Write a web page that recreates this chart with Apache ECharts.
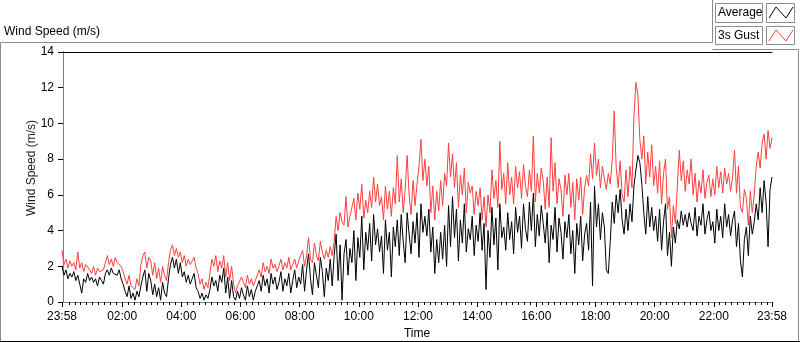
<!DOCTYPE html>
<html>
<head>
<meta charset="utf-8">
<script src="https://cdn.jsdelivr.net/npm/echarts@6/dist/echarts.min.js"></script>
<style>html,body{margin:0;padding:0;background:#fff}#c{width:800px;height:342px}</style>
</head>
<body>
<div id="c"></div>
<script>
// samples every 4 minutes, first one at 23:58 (-2 min from midnight)
const startMin = -2, stepMin = 4;
const average = [
2.0,1.5,1.8,1.3,1.6,1.4,1.7,1.2, 1.5,1.0,0.5,1.3,1.1,1.6, 1.2,1.4,1.1,1.3,0.9,1.4,1.2,1.0,
1.6,1.8,1.5,1.9,1.6,1.7,1.5,1.8, 1.3,1.0,0.6,0.3,0.9,0.2, 0.5,0.1,0.6,0.3,
0.9,1.4,1.8,0.6,1.6,1.2,0.4,1.0,0.3, 0.8,0.1,1.1,0.5,0.3, 1.3,2.1,2.5,1.9,2.4,1.6,2.2,
1.4,1.7,1.1,1.5,1.0,1.3,1.6,0.8, 0.6,0.2,0.5,0.1,0.4,0.2, 0.7,1.4,0.9,1.2,0.6,1.5,
1.1,1.9,0.5,1.4,0.2,1.2, 0.3,0.1,0.6,
0.2,0.8,0.4,0.1,0.9,0.3,0.7,0.1,0.6,0.9, 1.2,0.6,1.5,0.9,1.3,0.5,1.6,1.0,1.4,0.7,
1.1,1.7,0.6,1.3,0.9,1.6,0.5,1.2,1.8,0.8,1.4, 1.0,2.1,0.6,1.8,2.7,1.3,0.4,2.2,1.5,0.8,2.5,
1.7,0.3,1.9,1.2,2.4,0.9, 2.6,3.8,1.2,3.2, 0.1,2.7,3.5,1.5,3.0,
2.2,4.0,1.2,3.6,2.5,4.8,1.8,3.9,2.9, 4.4,2.3,4.9,3.2,4.1,2.8,
3.7,1.6,4.6,2.9,3.9,1.4,4.2,3.1,4.6, 2.6,4.9,3.4,2.2,5.0,3.8,2.7,4.5,3.3,5.0,2.5,
5.5,3.9,4.8,3.7,5.2, 2.8,4.2,1.6,3.5,2.2,3.9,2.4, 4.3,2.0,5.4,3.1,5.9,
3.6,5.2,2.3,4.6,3.3,5.5,2.8,4.1,3.5, 4.8,2.6,4.3,3.4,5.0,2.9,4.4,0.7,
4.0,2.5,5.3,3.2,4.7,1.8,5.5,3.6,4.2,2.9, 5.0,3.5,4.5,2.7,5.3,3.9,4.8,3.0,5.5,4.1,
3.4,5.6,4.0,6.1,3.1,4.9,3.7,5.4,4.4,3.3, 5.0,2.2,4.3,3.5,5.3,2.8,4.7,3.9,2.4,4.5,3.6,
4.9,2.7,4.0,1.6,4.4,3.2,4.8,2.3,3.8,4.4, 2.9,5.6,0.9,6.5,4.2,5.5,
3.5,5.0,4.2,1.8,1.6,3.4, 5.6,4.4,6.0,5.0,6.3,4.6, 3.8,5.2,4.0,5.5,4.5,
6.5,7.4,8.2,7.8,6.6, 5.0,3.8,5.9,4.2,5.3,4.0,4.8, 3.4,5.2,2.9,4.5,5.5, 2.6,3.9,2.0,4.2,3.3,
4.6,4.1,5.1,4.3,4.9,4.2,5.0,4.4, 4.0,5.3,3.7,4.8,4.3,5.5,3.8,4.6,5.1,4.0,
4.5,3.3,5.2,4.0,4.8,3.6,5.5,4.2,4.9,3.7, 4.6,5.1,3.1,4.4,2.3,1.4,3.5,
4.2,2.6,4.8,3.8,4.5, 5.5,4.6,6.4,5.0,6.8,5.6,3.1,6.3,7.0
];
const gust = [
2.9,2.1,2.4,1.9,2.3,2.0,2.2,1.8, 2.8,1.9,2.2,1.7,2.1,2.0, 1.8,1.6,2.0,1.5,1.9,1.7,1.6,1.8,
2.2,2.6,2.1,2.4,2.0,2.5,2.2,2.3, 2.0,1.7,1.3,1.0,1.5,0.9, 1.0,0.7,1.3,0.9,
2.1,2.6,2.8,1.9,2.5,2.3,1.5,2.2,1.3, 1.9,1.1,2.0,1.5,1.2, 2.2,2.9,3.2,2.6,3.0,2.5,2.8,
2.2,2.6,2.0,2.4,2.1,2.3,2.5,1.9, 1.6,1.0,1.3,0.7,1.1,0.8, 1.6,2.4,2.0,2.6,1.7,2.3,
1.9,2.6,1.4,2.2,1.2,2.0, 1.0,0.5,0.9,
0.9,1.4,1.1,0.8,1.5,1.0,1.3,0.9,1.2,1.5, 1.8,1.4,2.2,1.7,2.0,1.6,2.4,1.9,2.1,1.7,
2.0,2.4,1.8,2.2,1.9,2.5,1.8,2.1,2.4,1.9,2.3, 2.2,2.9,2.0,2.6,3.6,2.4,2.2,3.3,2.6,2.3,3.4,
2.8,2.4,2.9,2.5,3.1,2.6, 3.4,4.8,4.0,5.0, 4.5,4.3,5.9,4.2,4.8,
4.9,5.8,4.6,6.1,5.2,6.6,4.7,5.7,5.0, 6.2,5.3,7.0,5.6,6.6,5.4,
5.9,4.6,6.5,5.2,6.2,4.8,6.4,5.5,8.2, 5.6,6.9,5.0,6.3,8.2,6.0,4.9,6.8,5.4,6.6,7.6,
9.1,6.8,8.0,6.5,7.6, 5.0,6.5,4.6,6.2,5.1,6.8,5.4, 7.2,6.5,8.9,7.0,8.3,
6.4,7.8,5.3,7.1,6.0,7.5,5.0,6.7,6.1, 6.5,4.9,6.2,5.4,6.4,4.6,5.9,4.2,
6.0,5.0,7.4,5.8,6.8,5.3,9.0,6.3,7.2,5.5, 7.8,6.0,7.0,5.5,7.6,6.4,7.3,5.8,7.7,6.5,
5.9,7.4,6.2,9.3,5.6,7.2,6.1,7.5,6.8,5.2, 7.0,5.3,9.2,6.2,7.8,5.5,6.9,6.3,4.8,7.1,6.0,
7.2,5.3,6.7,4.6,6.9,5.7,7.0,4.9,6.4,7.1, 6.5,8.3,6.9,8.9,7.1,8.0,
6.4,7.6,6.9,6.3,7.2,6.6, 8.0,10.7,7.5,6.4,7.9,6.0, 5.6,7.4,5.9,7.6,6.4,
10.4,12.3,11.6,9.1,8.0, 9.3,6.6,8.4,7.0,8.8,6.5,7.6, 6.1,7.9,5.5,7.2,8.0, 5.2,5.9,3.6,5.4,4.4,
6.5,8.5,6.8,7.9,6.2,7.4,6.6,8.0, 6.0,7.2,5.6,6.8,6.1,7.4,5.8,6.7,7.1,5.9,
6.9,6.0,7.6,6.4,7.3,6.1,7.5,6.6,7.2,6.2, 7.0,8.5,6.1,7.6,5.3,5.0,6.3,
5.8,4.3,6.2,5.0,6.0, 7.6,8.4,7.5,8.9,9.4,8.0,9.6,8.6,9.2
];
const timeLabels = [-2,120,240,360,480,600,720,840,960,1080,1200,1320,1438];
const minorTicks = [];
for (let m = 12; m < 1438; m += 12) if (m % 120) minorTicks.push(m);

function hhmm(v){ v = (v + 1440) % 1440; const h = Math.floor(v/60), m = v%60; return (h<10?'0':'')+h+':'+(m<10?'0':'')+m; }
const pts = arr => arr.map((v,i)=>[startMin + i*stepMin, v]);

const font = 'Liberation Sans';
const chart = echarts.init(document.getElementById('c'));
chart.setOption({
  animation:false,
  textStyle:{fontFamily:font},
  grid:{left:62,right:28,top:52,bottom:40,outerBoundsMode:'none',containLabel:false,show:true,backgroundColor:'#fff',borderWidth:0},
  xAxis:[
    {type:'value',min:-2,max:1438,position:'bottom',name:'Time',nameLocation:'middle',nameGap:25,
     nameTextStyle:{color:'#000',fontSize:12,fontFamily:font},
     axisLine:{lineStyle:{color:'#808080',width:1}},
     axisTick:{show:true,length:5,customValues:timeLabels,lineStyle:{color:'#000'}},
     axisLabel:{customValues:timeLabels,formatter:hhmm,color:'#000',fontSize:12,margin:9,fontFamily:font},
     splitLine:{show:false}},
    {type:'value',min:-2,max:1438,position:'bottom',
     axisLine:{show:false},axisTick:{show:true,length:3,customValues:minorTicks,lineStyle:{color:'#000'}},
     axisLabel:{show:false},splitLine:{show:false}},
    {type:'value',min:-2,max:1438,position:'top',
     axisLine:{lineStyle:{color:'#000'}},axisTick:{show:false},axisLabel:{show:false},splitLine:{show:false}}
  ],
  yAxis:[
    {type:'value',min:0,max:14,interval:2,position:'left',
     axisLine:{show:true,lineStyle:{color:'#000'}},
     axisTick:{show:true,length:5,lineStyle:{color:'#000'}},
     axisLabel:{color:'#000',fontSize:12,margin:8,fontFamily:font},splitLine:{show:false}},
    {type:'value',min:0,max:14,position:'right',
     axisLine:{show:true,lineStyle:{color:'#808080'}},axisTick:{show:false},axisLabel:{show:false},splitLine:{show:false}}
  ],
  series:[
    {name:'3s Gust',type:'line',data:pts(gust),showSymbol:false,lineStyle:{color:'#ff3f3f',width:1},itemStyle:{color:'#ff3f3f'}},
    {name:'Average',type:'line',data:pts(average),showSymbol:false,lineStyle:{color:'#000',width:1},itemStyle:{color:'#000'}}
  ],
  graphic:[
    {type:'polyline',shape:{points:[[0.5,342],[0.5,42.5],[712.5,42.5],[712.5,0]]},style:{stroke:'#8c8c8c',fill:null,lineWidth:1}},
    {type:'polyline',shape:{points:[[712.5,49.5],[798.5,49.5],[798.5,342]]},style:{stroke:'#8c8c8c',fill:null,lineWidth:1}},
    {type:'line',shape:{x1:0,y1:341.5,x2:800,y2:341.5},style:{stroke:'#000',lineWidth:1}},
    {type:'text',left:4,top:26,style:{text:'Wind Speed (m/s)',fill:'#000',font:'12px '+font}},
    {type:'text',x:32,y:168,rotation:Math.PI/2,style:{text:'Wind Speed (m/s)',fill:'#1a1a1a',font:'12px '+font,align:'center',verticalAlign:'middle'}},
    {type:'rect',shape:{x:715.5,y:3.5,width:47,height:19},style:{fill:'#fff',stroke:'#8c8c8c'}},
    {type:'text',x:718,y:13,style:{text:'Average',fill:'#000',font:'12px '+font,verticalAlign:'middle'}},
    {type:'rect',shape:{x:766.5,y:3.5,width:28,height:19},style:{fill:'#fff',stroke:'#8c8c8c'}},
    {type:'polyline',shape:{points:[[769,18],[776,7],[786,18],[793,7]]},style:{stroke:'#000',fill:null,lineWidth:1}},
    {type:'rect',shape:{x:715.5,y:26.5,width:47,height:18},style:{fill:'#fff',stroke:'#8c8c8c'}},
    {type:'text',x:718,y:36,style:{text:'3s Gust',fill:'#000',font:'12px '+font,verticalAlign:'middle'}},
    {type:'rect',shape:{x:766.5,y:26.5,width:28,height:18},style:{fill:'#fff',stroke:'#8c8c8c'}},
    {type:'polyline',shape:{points:[[769,41],[776,30],[786,41],[793,30]]},style:{stroke:'#ff3f3f',fill:null,lineWidth:1}}
  ]
});
window.addEventListener('resize',()=>chart.resize());
</script>
</body>
</html>
